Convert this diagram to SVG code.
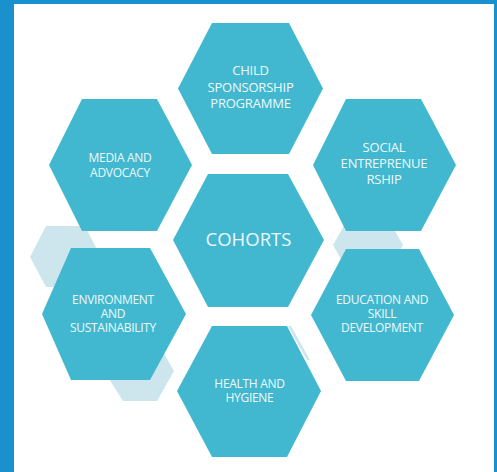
<svg xmlns="http://www.w3.org/2000/svg" width="497" height="472" viewBox="0 0 497 472">
<style>
.hex{fill:#41b8cf}
.bg{fill:#cde6ee}
.lbl{font-family:"Open Sans","Liberation Sans",sans-serif;fill:#eef9fc;text-anchor:middle}
.s{font-size:12px;letter-spacing:-0.3px}
.m{font-size:13px;letter-spacing:-0.2px}
</style>
<rect x="0" y="0" width="497" height="472" fill="#1a90cc"/>
<rect x="14" y="4" width="480" height="468" fill="#ffffff"/>
<g id="background">
<polygon class="bg" points="30,257 46,226 85,226 101,257 85,287 46,287"/>
<polygon class="bg" points="104,371 121,341 157,341 174,371 157,401 123,401"/>
<polygon class="bg" points="333,245 350,215 386,215 403,245 386,275 350,275"/>
<polygon class="bg" points="288,326 291,326 310,360 307,360"/>
</g>
<g id="child">
<polygon class="hex" points="178,88.5 212,23 289,23 323,88.5 289,154 212,154"/>
<text class="lbl m" x="250.5" y="75">CHILD</text>
<text class="lbl m" x="250.5" y="91.5">SPONSORSHIP</text>
<text class="lbl m" x="250.5" y="108">PROGRAMME</text>
</g>
<g id="media">
<polygon class="hex" points="49,165 82,99 157,99 192,165 157,231 82,231"/>
<text class="lbl s" x="120" y="162">MEDIA AND</text>
<text class="lbl s" x="120" y="177">ADVOCACY</text>
</g>
<g id="social">
<polygon class="hex" points="313,165 346,99 421,99 456,165 421,231 346,231"/>
<text class="lbl m" x="384" y="152">SOCIAL</text>
<text class="lbl m" x="384" y="168">ENTREPRENUE</text>
<text class="lbl m" x="384" y="184">RSHIP</text>
</g>
<g id="cohorts">
<polygon class="hex" points="173,240 208,174 288,174 324,240 288,307 208,307"/>
<text class="lbl" x="248.5" y="246" font-size="18.5">COHORTS</text>
</g>
<g id="environment">
<polygon class="hex" points="42,314 71,248 150,248 186,314 150,380 71,380"/>
<text class="lbl s" x="113" y="304">ENVIRONMENT</text>
<text class="lbl s" x="113" y="318">AND</text>
<text class="lbl s" x="113" y="331.5">SUSTAINABILITY</text>
</g>
<g id="education">
<polygon class="hex" points="311,315 346,249 419,249 454,315 419,381 346,381"/>
<text class="lbl s" x="382" y="304">EDUCATION AND</text>
<text class="lbl s" x="382" y="318">SKILL</text>
<text class="lbl s" x="382" y="331.5">DEVELOPMENT</text>
</g>
<g id="health">
<polygon class="hex" points="177,391 212,326 287,326 321,391 287,457 212,457"/>
<text class="lbl s" x="249.5" y="388">HEALTH AND</text>
<text class="lbl s" x="249.5" y="402">HYGIENE</text>
</g>
<g id="connectors"></g>
</svg>
